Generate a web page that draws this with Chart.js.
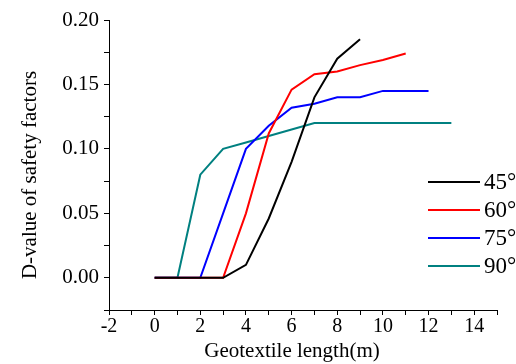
<!DOCTYPE html>
<html>
<head>
<meta charset="utf-8">
<script src="https://cdn.jsdelivr.net/npm/chart.js@4/dist/chart.umd.min.js"></script>
<style>
  html, body { margin: 0; padding: 0; background: #fff; }
  #wrap { width: 516px; height: 364px; }
</style>
</head>
<body>
<div id="wrap"><canvas id="chart"></canvas></div>
<script>
// values
const lengths45 = [0, 1, 2, 3, 4, 5, 6, 7, 8, 9];
const values45  = [0, 0, 0, 0, 0.01, 0.046, 0.09, 0.14, 0.17, 0.185];

const lengths60 = [0, 1, 2, 3, 4, 5, 6, 7, 8, 9, 10, 11];
const values60  = [0, 0, 0, 0, 0.05, 0.112, 0.146, 0.158, 0.16, 0.165, 0.169, 0.174];

const lengths75 = [0, 1, 2, 3, 4, 5, 6, 7, 8, 9, 10, 11, 12];
const values75  = [0, 0, 0, 0.05, 0.10, 0.118, 0.132, 0.135, 0.14, 0.14, 0.145, 0.145, 0.145];

const lengths90 = [0, 1, 2, 3, 4, 5, 6, 7, 8, 9, 10, 11, 12, 13];
const values90  = [0, 0, 0.08, 0.10, 0.105, 0.11, 0.115, 0.12, 0.12, 0.12, 0.12, 0.12, 0.12, 0.12];

const seriesNames = ['45°', '60°', '75°', '90°'];
const seriesColors = ['#000000', '#ff0000', '#0000ff', '#008080'];

const xTickLabels = [-2, 0, 2, 4, 6, 8, 10, 12, 14];
const yTickLabels = [0.00, 0.05, 0.10, 0.15, 0.20];

const xTitle = 'Geotextile length(m)';
const yTitle = 'D-value of safety factors';

const serif = "'Liberation Serif', 'DejaVu Serif', serif";

function toPoints(xs, ys) {
    return xs.map((x, i) => ({ x: x, y: ys[i] }));
}

const allSeries = [
    toPoints(lengths45, values45),
    toPoints(lengths60, values60),
    toPoints(lengths75, values75),
    toPoints(lengths90, values90)
];

// legend inside the plot + axis titles where the original puts them
const extras = {
    id: 'extras',
    afterDraw(chart) {
        const ctx = chart.ctx;
        const rows = [182, 210, 238, 266];
        ctx.save();
        seriesNames.forEach(function(name, i) {
            ctx.strokeStyle = seriesColors[i];
            ctx.lineWidth = 2;
            ctx.beginPath();
            ctx.moveTo(428, rows[i]);
            ctx.lineTo(480, rows[i]);
            ctx.stroke();
            ctx.fillStyle = '#000';
            ctx.font = '23px ' + serif;
            ctx.textBaseline = 'middle';
            ctx.textAlign = 'left';
            ctx.fillText(name, 484, rows[i] + 1);
        });

        // axis titles
        ctx.fillStyle = '#000';
        ctx.font = '21px ' + serif;
        ctx.textAlign = 'center';
        ctx.textBaseline = 'middle';
        ctx.fillText(xTitle, 292, 351);

        ctx.translate(30, 175);
        ctx.rotate(-Math.PI / 2);
        ctx.fillText(yTitle, 0, 0);
        ctx.restore();
    }
};

const config = {
    type: 'line',
    data: {
        datasets: allSeries.map(function(pts, i) {
            return {
                label: seriesNames[i],
                data: pts,
                borderColor: seriesColors[i],
                backgroundColor: seriesColors[i],
                borderWidth: 2,
                pointRadius: 0,
                tension: 0,
                fill: false,
                order: i
            };
        })
    },
    options: {
        responsive: true,
        maintainAspectRatio: false,
        animation: false,
        layout: { padding: { top: 20, right: 19, left: 0, bottom: 0 } },
        plugins: {
            legend: { display: false },
            tooltip: { enabled: false }
        },
        scales: {
            x: {
                type: 'linear',
                min: -2,
                max: 15,
                afterFit(scale) { scale.height = 54; },
                border: { color: '#000', width: 1 },
                grid: { drawOnChartArea: false, drawTicks: true, tickLength: 5, color: '#000' },
                ticks: {
                    stepSize: 1,
                    autoSkip: false,
                    maxRotation: 0,
                    padding: 0,
                    color: '#000',
                    font: { family: serif, size: 20 },
                    callback: v => xTickLabels.includes(v) ? String(v) : ''
                }
            },
            y: {
                type: 'linear',
                min: -0.025,
                max: 0.2,
                afterFit(scale) { scale.width = 109; },
                border: { color: '#000', width: 1 },
                grid: { drawOnChartArea: false, drawTicks: true, tickLength: 5, color: '#000' },
                ticks: {
                    stepSize: 0.025,
                    autoSkip: false,
                    padding: 5,
                    color: '#000',
                    font: { family: serif, size: 21 },
                    callback: function(v) {
                        const r = Math.round(v * 1000) / 1000;
                        const hit = yTickLabels.find(t => Math.abs(t - r) < 1e-6);
                        return hit !== undefined ? hit.toFixed(2) : '';
                    }
                }
            }
        }
    },
    plugins: [extras]
};

new Chart(document.getElementById('chart'), config);
</script>
</body>
</html>
